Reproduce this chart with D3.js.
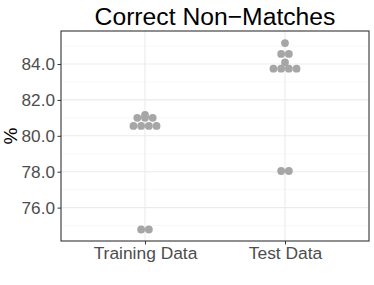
<!DOCTYPE html>
<html>
  <head>
    <title>Correct Non-Matches</title>
    <script src="https://d3js.org/d3.v7.min.js" charset="utf-8"></script>
    <style type="text/css">
      body { margin: 0; background: #fff; }
      text { font-family: "Liberation Sans", Arial, Helvetica, sans-serif; }
    </style>
  </head>
  <body>
    <script type="text/javascript">

      // Data
      var categories = ["Training Data", "Test Data"];
      var trainingValues = [80.55, 80.55, 80.55, 80.55, 81.0, 81.0, 81.0, 81.16, 74.78, 74.78];
      var testValues = [85.17, 84.56, 84.56, 84.09, 83.74, 83.74, 83.74, 83.74, 78.04, 78.04];
      var yTicks = [76, 78, 80, 82, 84];
      var yMinorTicks = [75, 77, 79, 81, 83, 85];

      var width = 374, height = 285;
      var pLeft = 61, pRight = 369, pTop = 31, pBottom = 241;

      var svg = d3.select("body").append("svg")
          .attr("width", width)
          .attr("height", height);

      var x = d3.scalePoint().domain(categories).range([pLeft, pRight]).padding(0.6);
      var y = d3.scaleLinear().domain([74.14, 85.84]).range([pBottom, pTop]);

      // grid lines
      svg.selectAll("line.minor").data(yMinorTicks).enter().append("line")
          .attr("x1", pLeft).attr("x2", pRight)
          .attr("y1", d => y(d)).attr("y2", d => y(d))
          .style("stroke", "#f2f2f2").style("stroke-width", 0.6);
      svg.selectAll("line.major").data(yTicks).enter().append("line")
          .attr("x1", pLeft).attr("x2", pRight)
          .attr("y1", d => y(d)).attr("y2", d => y(d))
          .style("stroke", "#ebebeb").style("stroke-width", 1.1);
      svg.selectAll("line.vgrid").data(categories).enter().append("line")
          .attr("x1", d => x(d)).attr("x2", d => x(d))
          .attr("y1", pTop).attr("y2", pBottom)
          .style("stroke", "#ebebeb").style("stroke-width", 1.1);

      // dots, stacked side by side when values are equal
      var spacing = 7.7;
      var series = [trainingValues, testValues];
      series.forEach(function(vals, si) {
        var bins = d3.groups(vals, v => v);
        bins.forEach(function(b) {
          var n = b[1].length;
          b[1].forEach(function(v, i) {
            svg.append("circle")
                .attr("cx", x(categories[si]) + (i - (n - 1) / 2) * spacing)
                .attr("cy", y(v))
                .attr("r", 3.9)
                .style("fill", "#a6a6a6");
          });
        });
      });

      // panel border
      svg.append("rect")
          .attr("x", pLeft).attr("y", pTop)
          .attr("width", pRight - pLeft).attr("height", pBottom - pTop)
          .style("fill", "none").style("stroke", "#333333").style("stroke-width", 1.1);

      // y axis
      var yAxis = svg.append("g")
          .attr("transform", "translate(" + pLeft + ",0)")
          .call(d3.axisLeft(y).tickValues(yTicks).tickFormat(d3.format(".1f")).tickSize(3.5).tickPadding(2.5));
      yAxis.select(".domain").remove();
      yAxis.selectAll("line").style("stroke", "#333333");
      yAxis.selectAll("text").style("font-size", "17.2px").style("fill", "#4d4d4d")
          .style("font-family", "Liberation Sans, Arial, sans-serif");

      // x axis
      var xAxis = svg.append("g")
          .attr("transform", "translate(0," + pBottom + ")")
          .call(d3.axisBottom(x).tickSize(3.5).tickPadding(2));
      xAxis.select(".domain").remove();
      xAxis.selectAll("line").style("stroke", "#333333");
      xAxis.selectAll("text").style("font-size", "17.4px").style("fill", "#4d4d4d")
          .style("font-family", "Liberation Sans, Arial, sans-serif");

      // y label
      svg.append("text")
          .attr("transform", "translate(17," + ((pTop + pBottom) / 2) + ") rotate(-90)")
          .attr("text-anchor", "middle")
          .style("font-size", "19px")
          .text("%");

      // title
      svg.append("text")
          .attr("x", (pLeft + pRight) / 2)
          .attr("y", 25)
          .attr("text-anchor", "middle")
          .style("font-size", "24.7px")
          .text("Correct Non\u2212Matches");

    </script>
  </body>
</html>
